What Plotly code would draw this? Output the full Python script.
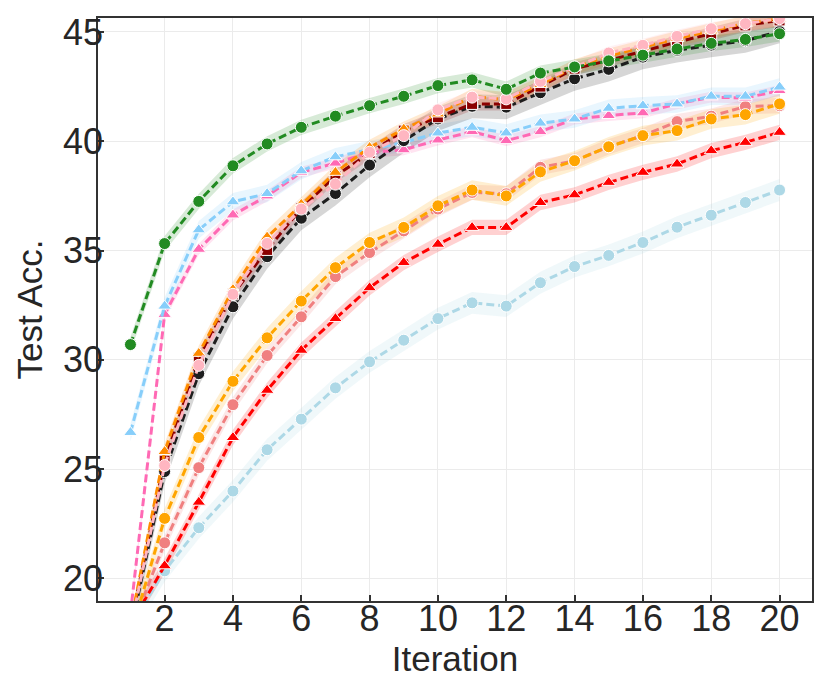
import plotly.graph_objects as go

# Iterations
iters = list(range(1, 21))

# Mean test accuracy per run
acc_lightblue = [17.8, 20.35, 22.32, 24.0, 25.89, 27.29, 28.72, 29.91, 30.9, 31.89,
                 32.61, 32.46, 33.53, 34.27, 34.78, 35.37, 36.07, 36.62, 37.2, 37.77]
acc_red = [17.9, 20.58, 23.49, 26.45, 28.61, 30.44, 31.89, 33.3, 34.45, 35.29,
           36.06, 36.06, 37.2, 37.55, 38.12, 38.58, 38.96, 39.57, 39.95, 40.41]
acc_coral = [17.6, 21.63, 25.07, 27.95, 30.2, 31.97, 33.81, 34.91, 35.9, 36.9,
             37.66, 37.6, 38.81, 39.11, 39.75, 40.26, 40.9, 41.15, 41.59, 41.63]
acc_orange = [17.4, 22.75, 26.45, 29.02, 31.01, 32.69, 34.22, 35.37, 36.06, 37.05,
              37.77, 37.5, 38.6, 39.11, 39.75, 40.26, 40.49, 41.02, 41.22, 41.71]
acc_hotpink = [18.4, 32.08, 35.06, 36.63, 37.5, 38.58, 39.0, 39.49, 39.61, 40.06,
               40.44, 40.03, 40.44, 41.02, 41.18, 41.3, 41.71, 42.02, 41.98, 42.32]
acc_skyblue = [26.68, 32.46, 35.95, 37.23, 37.61, 38.65, 39.29, 39.61, 39.95, 40.38,
               40.64, 40.38, 40.83, 41.02, 41.51, 41.63, 41.71, 42.06, 42.06, 42.48]
acc_black = [17.6, 24.89, 29.37, 32.43, 34.72, 36.48, 37.61, 38.91, 40.03, 41.02,
             41.6, 41.56, 42.22, 42.86, 43.29, 43.85, 44.16, 44.4, 44.6, 45.03]
acc_maroon = [17.8, 25.39, 30.09, 33.0, 35.03, 36.94, 38.42, 39.46, 40.49, 41.1,
              41.71, 41.71, 42.5, 43.32, 43.7, 44.13, 44.54, 44.92, 45.3, 45.53]
acc_darkorange = [17.9, 25.81, 30.3, 33.22, 35.62, 37.12, 38.58, 39.72, 40.56, 41.25,
                  42.05, 41.9, 42.6, 43.4, 43.9, 44.3, 44.7, 45.05, 45.4, 45.6]
acc_lightpink = [17.7, 25.17, 29.75, 33.0, 35.33, 36.9, 38.04, 39.5, 40.26, 41.44,
                 42.02, 41.94, 42.74, 43.4, 44.04, 44.39, 44.8, 45.15, 45.38, 45.61]
acc_green = [30.7, 35.32, 37.25, 38.88, 39.88, 40.64, 41.15, 41.63, 42.06, 42.55,
             42.81, 42.38, 43.12, 43.4, 43.68, 43.94, 44.22, 44.48, 44.66, 44.92]

# Approx. half-width of the shaded band for each run
band_lightblue = 0.5
band_red = 0.35
band_coral = 0.35
band_orange = 0.45
band_hotpink = 0.25
band_skyblue = 0.4
band_black = 0.55
band_maroon = 0.3
band_darkorange = 0.35
band_lightpink = 0.3
band_green = 0.35

# (values, band, colour rgb, marker) in drawing order
runs = [
    (acc_lightblue, band_lightblue, (173, 216, 230), "circle"),
    (acc_red, band_red, (255, 0, 0), "triangle-up"),
    (acc_coral, band_coral, (240, 128, 128), "circle"),
    (acc_orange, band_orange, (255, 165, 0), "circle"),
    (acc_hotpink, band_hotpink, (255, 105, 180), "triangle-up"),
    (acc_skyblue, band_skyblue, (135, 206, 250), "triangle-up"),
    (acc_black, band_black, (30, 30, 30), "circle"),
    (acc_maroon, band_maroon, (139, 0, 0), "square"),
    (acc_darkorange, band_darkorange, (255, 140, 0), "triangle-up"),
    (acc_lightpink, band_lightpink, (255, 182, 193), "circle"),
    (acc_green, band_green, (34, 139, 34), "circle"),
]

fig = go.Figure()

# shaded bands
for vals, band, rgb, sym in runs:
    upper = [v + band for v in vals]
    lower = [v - band for v in vals]
    fig.add_trace(go.Scatter(
        x=iters + iters[::-1],
        y=upper + lower[::-1],
        fill="toself",
        fillcolor="rgba(%d,%d,%d,0.18)" % rgb,
        line=dict(width=0),
        mode="lines",
        hoverinfo="skip",
        showlegend=False,
    ))

# dashed lines with markers
for vals, band, rgb, sym in runs:
    col = "rgb(%d,%d,%d)" % rgb
    fig.add_trace(go.Scatter(
        x=iters,
        y=vals,
        mode="lines+markers",
        line=dict(color=col, width=3, dash="8px,4px"),
        marker=dict(symbol=sym, size=12 if sym != "square" else 11,
                    color=col, line=dict(color="white", width=1)),
        showlegend=False,
    ))

axis_style = dict(
    showline=True, mirror=True, linecolor="#333333", linewidth=1.5,
    ticks="inside", ticklen=6, tickwidth=1.5, tickcolor="#333333",
    showgrid=True, gridcolor="#EBEBEB", gridwidth=1,
    zeroline=False, automargin=False,
    tickfont=dict(family="Liberation Sans, Arial", size=36, color="#262626"),
)

# page body has an 8px margin, so the figure is 8px smaller than the window
fig.update_layout(
    width=822, height=684,
    margin=dict(l=90, r=18, t=10, b=91),
    plot_bgcolor="white", paper_bgcolor="white",
    font=dict(family="Liberation Sans, Arial", color="#262626"),
    xaxis=dict(axis_style, range=[0.05, 20.95], tickvals=list(range(2, 21, 2)),
               ticklabelstandoff=-15,
               title=dict(text="Iteration", font=dict(size=35), standoff=0)),
    yaxis=dict(axis_style, range=[18.97, 45.64], tickvals=[20, 25, 30, 35, 40, 45],
               ticklabelstandoff=-14,
               title=dict(text="Test Acc.", font=dict(size=35), standoff=10)),
)

fig.write_html("out.html")
